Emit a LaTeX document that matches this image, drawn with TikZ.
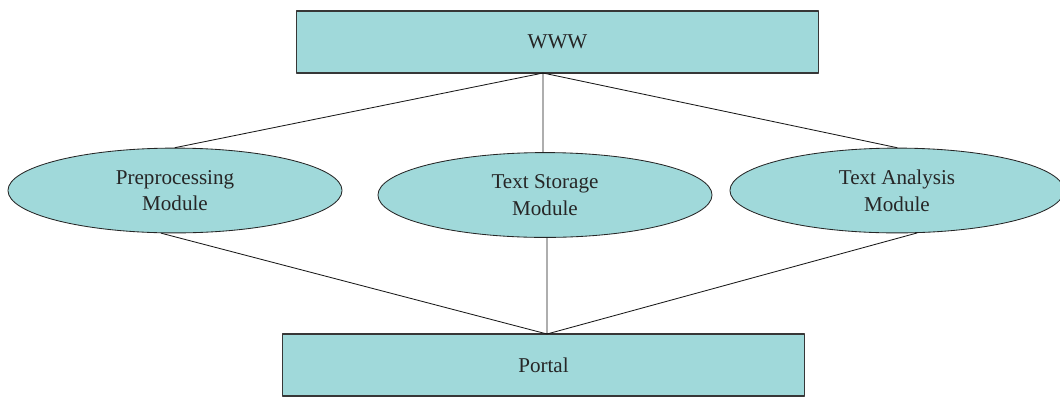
\documentclass[tikz,border=0pt]{standalone}
\usepackage{fontspec}
\setmainfont{Liberation Serif}
\usetikzlibrary{shapes.geometric}
\definecolor{boxfill}{RGB}{160,217,218}
\definecolor{edgegray}{RGB}{55,55,55}
\begin{document}
\begin{tikzpicture}[x=0.025cm, y=-0.025cm, font=\fontsize{15}{19}\selectfont, line join=round, line cap=round,
	bar/.style={draw=edgegray, line width=0.8pt, fill=boxfill, minimum width=13.05cm, minimum height=1.55cm, inner sep=0pt, text=black!85},
	blob/.style={ellipse, draw=black!85, line width=0.6pt, fill=boxfill, minimum width=8.35cm, minimum height=2.12cm, inner sep=0pt, align=center, text=black!85},
	link/.style={draw=black!90, line width=0.6pt}]
				\useasboundingbox (0,0) rectangle (1060,397);
				\node[bar] (www) at (557.5,42) {WWW};
				\node[bar] (portal) at (543.5,365) {Portal};
				\node[blob] (prep) at (175,190.5) {Preprocessing\\Module};
				\node[blob] (store) at (545,195) {Text Storage\\Module};
				\node[blob] (ana) at (897,190.5) {Text Analysis\\Module};
				\path (543,73) coordinate (wwwhub) (547,334) coordinate (portalhub);
				\draw[link] (prep.north) -- (wwwhub) -- (ana.north) (wwwhub) -- (wwwhub |- store.north);
				\draw[link] (prep.252) -- (portalhub) -- (ana.295) (store.south -| portalhub) -- (portalhub);
			\end{tikzpicture}
\end{document}
